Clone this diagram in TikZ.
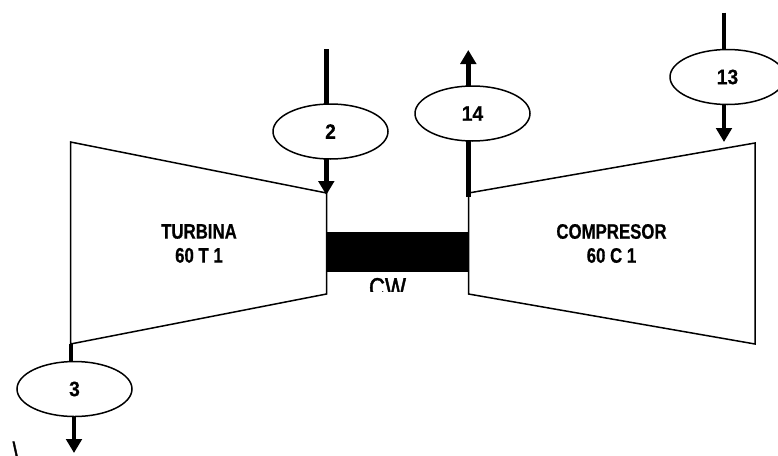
\documentclass[tikz,border=0pt]{standalone}
\usepackage{fontspec}
\setmainfont{Liberation Sans}
\newfontfamily\condfont[FakeStretch=0.8,BoldFeatures={FakeStretch=0.8,FakeBold=0.6}]{Liberation Sans}
\newfontfamily\tagfont[FakeStretch=0.92,BoldFeatures={FakeStretch=0.92,FakeBold=0.4}]{Liberation Sans}
\newfontfamily\bigfont[FakeStretch=0.8,FakeBold=1.5]{Liberation Sans}
\usetikzlibrary{shapes.geometric,arrows.meta,backgrounds}
\tikzset{
  machine/.style={draw=black,line width=1.5pt,line join=miter},
  stream/.style={draw=black,line width=4.6pt},
  flow/.style={stream,-{Triangle[width=15.5pt,length=14pt]}},
  tag/.style={ellipse,draw=black,line width=1.5pt,fill=white,minimum width=115pt,minimum height=55pt,inner sep=0pt,font=\tagfont\fontsize{21}{23}\bfseries\selectfont},
  mlabel/.style={align=center,font=\condfont\fontsize{21}{24}\bfseries\selectfont,inner sep=0pt},
  bigtext/.style={inner sep=0pt,font=\bigfont\fontsize{27.7}{30}\selectfont},
}
\begin{document}
\begin{tikzpicture}[x=1pt,y=-1pt]
\useasboundingbox (0,0) rectangle (778,455);
\clip (0,0) rectangle (778,455);
% machines
\draw[machine] (70.5,142) -- (326.5,193) -- (326.5,294) -- (70.5,344) -- cycle;
\draw[machine] (468.5,193) -- (755,143) -- (755,344) -- (468.5,294) -- cycle;
\node[draw=black,fill=black,inner sep=0pt,minimum width=142pt,minimum height=39pt] (cw) at (397.5,251.5) {};
\node[mlabel] (turb) at (199,243.5) {TURBINA\\60 T 1};
\node[mlabel] (comp) at (611.5,243.5) {COMPRESOR\\60 C 1};
\begin{scope}
\clip (340,272) rectangle (440,291.7);
\node[bigtext,anchor=base] (cwl) at (387.5,297.3) {CW};
\end{scope}
\node[bigtext,anchor=base west] (bs) at (12.5,461.7) {\textbackslash};
% stream tags
\node[tag] (e2) at (330.5,131.5) {2};
\node[tag] (e14) at (472.5,113.5) {14};
\node[tag] (e13) at (727.5,77) {13};
\node[tag] (e3) at (74.5,389) {3};
% free ends
\coordinate (a2) at (326.3,49);
\coordinate (b2) at (326.3,195);
\coordinate (a14) at (468.3,197);
\coordinate (b14) at (468.3,50);
\coordinate (a13) at (724,12.7);
\coordinate (b13) at (724,142);
\coordinate (a3) at (71,344);
\coordinate (c3) at (74,389);
\coordinate (b3) at (74,453);
\begin{scope}[on background layer]
\draw[stream] (a2) -- (a2 |- e2.center);
\draw[flow] (a2 |- e2.center) -- (b2);
\draw[stream] (a14) -- (a14 |- e14.center);
\draw[flow] (a14 |- e14.center) -- (b14);
\draw[stream] (a13) -- (a13 |- e13.center);
\draw[flow] (a13 |- e13.center) -- (b13);
\draw[stream] (a3) -- (a3 |- e3.center);
\draw[flow] (c3) -- (b3);
\end{scope}
\end{tikzpicture}
\end{document}
